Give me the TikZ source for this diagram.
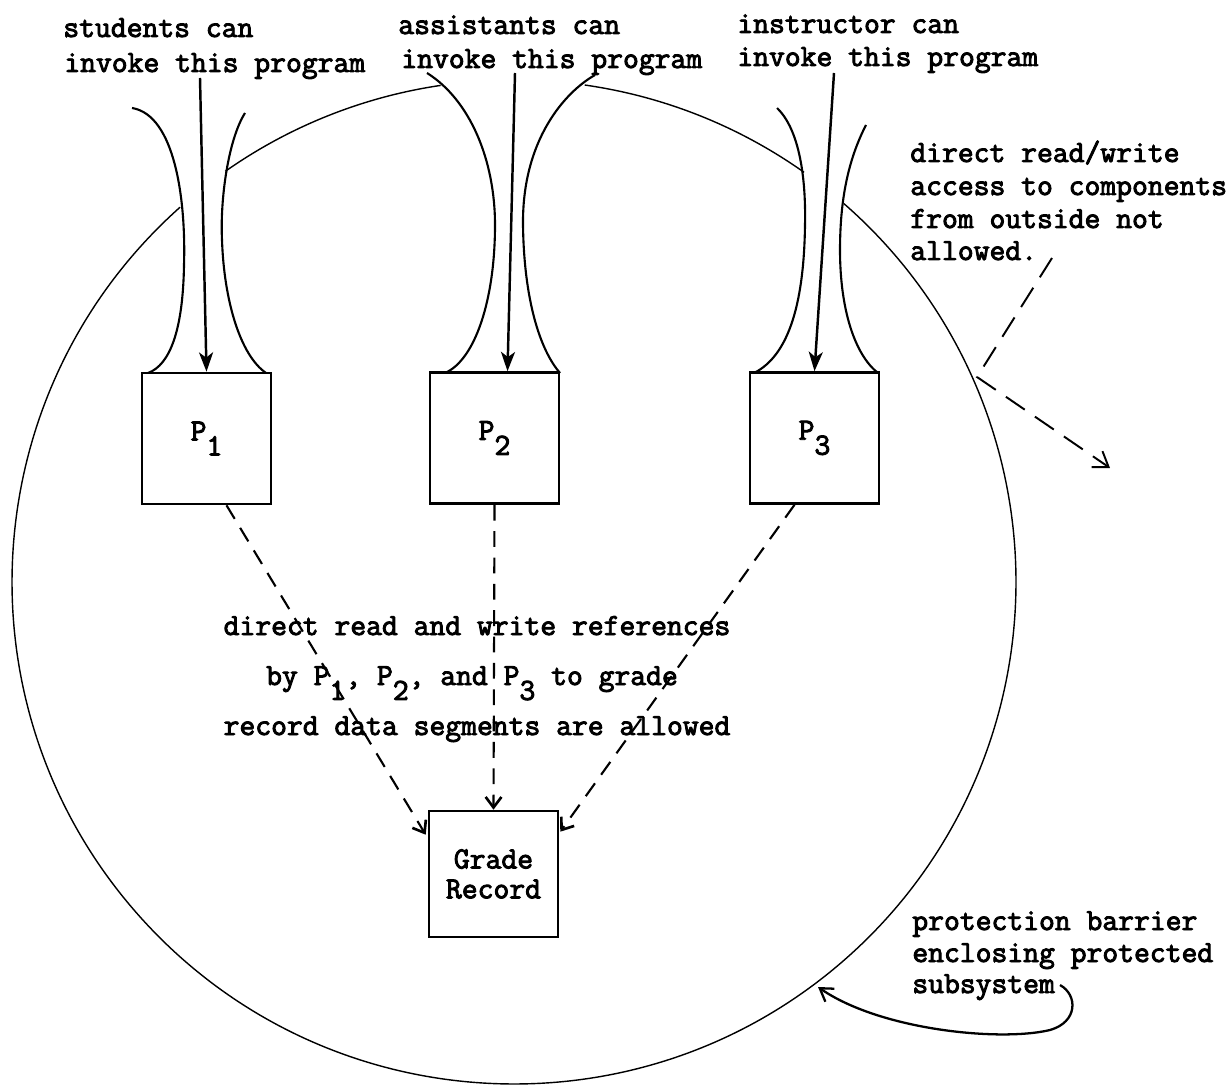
\documentclass[tikz,border=0pt]{standalone}
\usepackage{fontspec}
\newfontfamily\tw[FakeBold=3]{Latin Modern Mono}
\usetikzlibrary{arrows.meta,calc}
\newcommand\lowd[1]{\raisebox{-8.5pt}{#1}}
\begin{document}
\begin{tikzpicture}[x=0.02cm,y=-0.02cm,
  txt/.style={font=\tw\fontsize{17.5}{19}\selectfont, inner sep=0pt},
  lbl/.style={txt, anchor=base west},
  ctr/.style={txt, anchor=base},
  pbox/.style={draw, line width=1.5pt, minimum width=2.58cm, minimum height=2.62cm, inner sep=0pt, font=\tw\fontsize{17.5}{17}\selectfont},
  gbox/.style={pbox, minimum height=2.52cm, align=center},
  barrier/.style={line width=0.8pt},
  funnel/.style={line width=1.2pt},
  invoke/.style={line width=1.4pt, -{Stealth[length=11pt,width=8pt,inset=3pt]}},
  refarrow/.style={line width=1.2pt, dash pattern=on 9pt off 6pt, -{Straight Barb[length=6pt,width=9pt,line width=1.5pt]}},
  outarrow/.style={line width=1.1pt, dash pattern=on 13pt off 7pt, -{Straight Barb[length=8pt,width=11pt]}},
  curvearrow/.style={line width=1.3pt, -{Straight Barb[length=7pt,width=9pt]}},
]
\fill[white] (0,0) rectangle (1230,1087);
\useasboundingbox (0,0) rectangle (1230,1087);

% top labels
\node[lbl] (s1) at (63,37) {students can};
\node[lbl] (s2) at (64,72) {invoke this program};
\node[lbl] (a1) at (398,34) {assistants can};
\node[lbl] (a2) at (401,68) {invoke this program};
\node[lbl] (i1) at (737,33) {instructor can};
\node[lbl] (i2) at (737,66) {invoke this program};

% boxes
\node[pbox] (P1) at (206.5,438.5) {P\lowd{1}};
\node[pbox] (P2) at (494.5,438) {P\lowd{2}};
\node[pbox] (P3) at (814.5,438) {P\lowd{3}};
\node[gbox] (G) at (493.5,874) {Grade\\Record};

% protection barrier (circle arcs)
\draw[barrier] (514,582) ++(228.3:502) arc[start angle=228.3, end angle=-48.9, radius=502];
\draw[barrier] (514,582) ++(234.9:502) arc[start angle=234.9, end angle=261.6, radius=502];
\draw[barrier] (514,582) ++(278.1:502) arc[start angle=278.1, end angle=305.3, radius=502];

% funnels
\draw[funnel] (132,108) .. controls (175,115) and (186,200) .. (184,265)
                        .. controls (183,330) and (170,365) .. (148,373);
\draw[funnel] (245,113) .. controls (228,140) and (220,200) .. (222,240)
                        .. controls (224,300) and (240,355) .. (266,373);
\draw[funnel] (427,73) .. controls (470,100) and (495,160) .. (495,225)
                       .. controls (495,300) and (475,360) .. (445,373);
\draw[funnel] (595,75) .. controls (565,92) and (522,140) .. (523,225)
                       .. controls (524,300) and (540,350) .. (560,373);
\draw[funnel] (777,108) .. controls (800,130) and (806,180) .. (805,225)
                        .. controls (804,300) and (790,355) .. (754,373);
\draw[funnel] (866,125) .. controls (848,160) and (840,200) .. (840,250)
                        .. controls (840,310) and (855,355) .. (878,373);

% invocation arrows
\coordinate (st1) at (200,78);
\coordinate (st2) at (515,73);
\coordinate (st3) at (834,73);
\draw[invoke] (st1) -- (P1.north);
\draw[invoke] (st2) -- ($(P2.north)+(13,0)$);
\draw[invoke] (st3) -- (P3.north);

% dashed references
\draw[refarrow] ($(P1.south)+(20,0)$) -- ($(G.north west)+(-2,25)$);
\draw[refarrow] (P2.south) -- (G.north);
\draw[refarrow] ($(P3.south)+(-20,0)$) -- ($(G.north east)+(1,22)$);

% middle text
\node[ctr] (m1) at (477,635) {direct read and write references};
\node[ctr] (m2) at (472,685) {by P\lowd{1}, P\lowd{2}, and P\lowd{3} to grade};
\node[ctr] (m3) at (477,735) {record data segments are allowed};

% right annotation
\node[lbl] (r1) at (910,162) {direct read/write};
\node[lbl] (r2) at (910,195) {access to components};
\node[lbl] (r3) at (910,228) {from outside not};
\node[lbl] (r4) at (910,260) {allowed.};
\coordinate (oa) at (1052,258);
\coordinate (ob) at (977,377);
\coordinate (oc) at (1110,468);
\draw[outarrow] (oa) -- (ob) -- (oc);

% barrier annotation
\node[lbl] (b1) at (912,930) {protection barrier};
\node[lbl] (b2) at (912,962) {enclosing protected};
\node[lbl] (b3) at (912,993) {subsystem};
\coordinate (ba) at (1060,985);
\coordinate (bb) at (818,987);
\draw[curvearrow] (ba) .. controls (1078,995) and (1078,1022) .. (1050,1030)
                       .. controls (1000,1042) and (880,1030) .. (bb);
\end{tikzpicture}
\end{document}
